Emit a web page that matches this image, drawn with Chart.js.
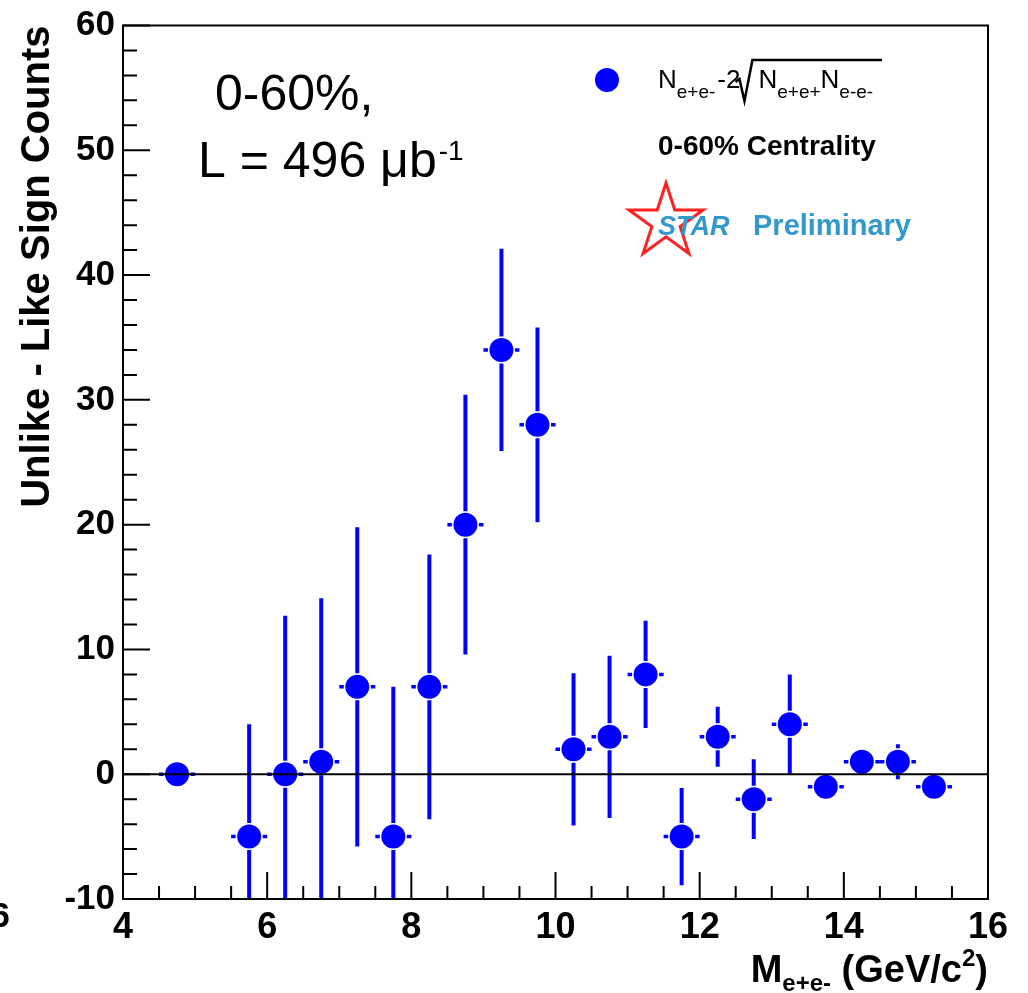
<!DOCTYPE html>
<html>
<head>
<meta charset="utf-8">
<script src="https://cdn.jsdelivr.net/npm/chart.js@4.4.1/dist/chart.umd.min.js"></script>
<style>
  html, body { margin: 0; padding: 0; background: #fff; }
  canvas { display: block; }
</style>
</head>
<body>
<canvas id="c" width="1028" height="993"></canvas>
<script>
// Dielectron invariant mass: unlike-sign minus like-sign counts, 0-60% centrality
const massBins = [4.75, 5.75, 6.25, 6.75, 7.25, 7.75, 8.25, 8.75, 9.25, 9.75, 10.25,
                  10.75, 11.25, 11.75, 12.25, 12.75, 13.25, 13.75, 14.25, 14.75, 15.25];
const counts   = [0, -5, 0, 1, 7, -5, 7, 20, 34, 28, 2, 3, 8, -5, 3, -2, 4, -1, 1, 1, -1];
const countErr = [0.8, 9, 12.7, 13.1, 12.8, 12, 10.6, 10.4, 8.1, 7.8, 6.1,
                  6.5, 4.3, 3.9, 2.4, 3.2, 4, 1, 1, 1.4, 1];
const binHalfWidth = 0.25;

const xRange = [4, 16];
const yRange = [-10, 60];

const FONT = '"Liberation Sans", Arial, Helvetica, sans-serif';
const BLUE = '#0000ff';
const MARKER_GAP = 13.5;

// error bars drawn ROOT style: nothing inside the marker
const errorBars = {
  id: 'errorBars',
  beforeDatasetsDraw(chart) {
    const { ctx, chartArea: a, scales: { x, y } } = chart;
    ctx.save();
    ctx.beginPath();
    ctx.rect(a.left, a.top, a.right - a.left, a.bottom - a.top);
    ctx.clip();
    ctx.strokeStyle = BLUE;
    ctx.lineWidth = 4;
    ctx.lineCap = 'butt';
    massBins.forEach((m, i) => {
      const px = x.getPixelForValue(m);
      const py = y.getPixelForValue(counts[i]);
      const top = y.getPixelForValue(counts[i] + countErr[i]);
      const bot = y.getPixelForValue(counts[i] - countErr[i]);
      const l = x.getPixelForValue(m - binHalfWidth);
      const r = x.getPixelForValue(m + binHalfWidth);
      ctx.beginPath();
      if (top < py - MARKER_GAP) { ctx.moveTo(px, py - MARKER_GAP); ctx.lineTo(px, top); }
      if (bot > py + MARKER_GAP) { ctx.moveTo(px, py + MARKER_GAP); ctx.lineTo(px, bot); }
      ctx.stroke();
      ctx.lineWidth = 3.5;
      ctx.beginPath();
      ctx.moveTo(l, py); ctx.lineTo(px - MARKER_GAP, py);
      ctx.moveTo(px + MARKER_GAP, py); ctx.lineTo(r, py);
      ctx.stroke();
      ctx.lineWidth = 4;
    });
    ctx.restore();
  }
};

// frame, inward ticks, zero line and the text boxes
const decorations = {
  id: 'decorations',
  afterDatasetsDraw(chart) {
    const { ctx, chartArea: a, scales: { x, y } } = chart;
    ctx.save();
    ctx.strokeStyle = '#000';
    ctx.lineWidth = 2;
    // zero line
    const y0 = y.getPixelForValue(0);
    ctx.beginPath(); ctx.moveTo(a.left, y0); ctx.lineTo(a.right, y0); ctx.stroke();
    // frame
    ctx.strokeRect(a.left, a.top, a.right - a.left, a.bottom - a.top);
    // x ticks
    ctx.beginPath();
    for (let v = xRange[0]; v <= xRange[1] + 1e-9; v += 0.5) {
      const px = x.getPixelForValue(v);
      const len = Math.abs(v % 2) < 1e-9 ? 27 : 13;
      ctx.moveTo(px, a.bottom); ctx.lineTo(px, a.bottom - len);
    }
    // y ticks
    for (let v = yRange[0]; v <= yRange[1] + 1e-9; v += 2) {
      const py = y.getPixelForValue(v);
      const len = Math.abs(v % 10) < 1e-9 ? 27 : 14;
      ctx.moveTo(a.left, py); ctx.lineTo(a.left + len, py);
    }
    ctx.stroke();
    ctx.restore();
  },
  afterDraw(chart) {
    const { ctx } = chart;
    ctx.save();
    ctx.fillStyle = '#000';
    ctx.textBaseline = 'alphabetic';
    ctx.textAlign = 'left';

    // x axis title, right aligned to the frame
    const big = 'bold 38px ' + FONT, small = 'bold 24px ' + FONT;
    const parts = [
      { t: 'M', f: big, dy: 0 },
      { t: 'e+e-', f: small, dy: 9 },
      { t: ' (GeV/c', f: big, dy: 0 },
      { t: '2', f: small, dy: -16 },
      { t: ')', f: big, dy: 0 }
    ];
    let w = 0;
    parts.forEach(p => { ctx.font = p.f; p.w = ctx.measureText(p.t).width; w += p.w; });
    let cx = chart.chartArea.right - w;
    parts.forEach(p => { ctx.font = p.f; ctx.fillText(p.t, cx, 982 + p.dy); cx += p.w; });

    // fragment of a neighbouring panel's label
    ctx.font = 'bold 35px ' + FONT;
    ctx.textAlign = 'right';
    ctx.fillText('6', 10, 927);
    ctx.textAlign = 'left';

    // big annotation
    ctx.font = '50px ' + FONT;
    ctx.fillText('0-60%,', 215, 110);
    ctx.fillText('L = 496 \u03bcb', 198, 177);
    const lw = ctx.measureText('L = 496 \u03bcb').width;
    ctx.font = '28px ' + FONT;
    ctx.fillText('-1', 198 + lw + 2, 160);

    // legend marker
    ctx.fillStyle = BLUE;
    ctx.beginPath(); ctx.arc(607, 80, 12, 0, Math.PI * 2); ctx.fill();

    // legend formula N_{e+e-}-2 sqrt(N_{e+e+} N_{e-e-})
    ctx.fillStyle = '#000';
    const nF = '26px ' + FONT, sF = '19px ' + FONT;
    let lx = 658;
    const put = (t, f, yy) => { ctx.font = f; ctx.fillText(t, lx, yy); lx += ctx.measureText(t).width; };
    put('N', nF, 88);
    put('e+e-', sF, 98);
    lx += 2;
    put('-2', nF, 88);
    const sqrtStart = lx - 5;
    lx += 18;
    ctx.strokeStyle = '#000';
    ctx.lineWidth = 2.5;
    ctx.beginPath();
    ctx.moveTo(sqrtStart, 82);
    ctx.lineTo(sqrtStart + 4, 79);
    ctx.lineTo(sqrtStart + 9, 101);
    ctx.lineTo(sqrtStart + 17, 60);
    ctx.lineTo(882, 60);
    ctx.stroke();
    put('N', nF, 88);
    put('e+e+', sF, 98);
    put('N', nF, 88);
    put('e-e-', sF, 98);

    ctx.font = 'bold 28px ' + FONT;
    ctx.fillText('0-60% Centrality', 658, 155);

    // STAR star outline
    const scx = 666, scy = 222, R = 39, r = R * 0.382;
    ctx.strokeStyle = '#ff2020';
    ctx.lineWidth = 3;
    ctx.beginPath();
    for (let k = 0; k < 10; k++) {
      const ang = -Math.PI / 2 + k * Math.PI / 5;
      const rr = k % 2 ? r : R;
      const px = scx + rr * Math.cos(ang), py = scy + rr * Math.sin(ang);
      if (k === 0) ctx.moveTo(px, py); else ctx.lineTo(px, py);
    }
    ctx.closePath();
    ctx.stroke();

    ctx.fillStyle = '#3399cc';
    ctx.font = 'italic bold 27px ' + FONT;
    ctx.fillText('STAR', 658, 235);
    ctx.font = 'bold 29px ' + FONT;
    ctx.fillText('Preliminary', 753, 235);
    ctx.restore();
  }
};

const ctx = document.getElementById('c').getContext('2d');
new Chart(ctx, {
  type: 'scatter',
  data: {
    datasets: [{
      data: massBins.map((m, i) => ({ x: m, y: counts[i] })),
      backgroundColor: BLUE,
      borderWidth: 0,
      pointRadius: 12,
      pointHoverRadius: 12
    }]
  },
  options: {
    responsive: false,
    animation: false,
    devicePixelRatio: 1,
    layout: { padding: { top: 25, right: 40, left: 0, bottom: 0 } },
    plugins: { legend: { display: false }, tooltip: { enabled: false } },
    scales: {
      x: {
        type: 'linear', min: xRange[0], max: xRange[1],
        afterFit: s => { s.height = 94; },
        grid: { display: false, drawTicks: false },
        border: { display: false },
        ticks: { stepSize: 2, padding: 7, color: '#000', maxRotation: 0, autoSkip: false,
                 font: { family: FONT, size: 36, weight: 'bold' } }
      },
      y: {
        type: 'linear', min: yRange[0], max: yRange[1],
        afterFit: s => { s.width = 123; },
        grid: { display: false, drawTicks: false },
        border: { display: false },
        ticks: { stepSize: 10, padding: 8, color: '#000',
                 font: { family: FONT, size: 35, weight: 'bold', lineHeight: 1 } },
        title: { display: true, text: 'Unlike - Like Sign Counts', align: 'end', color: '#000',
                 padding: { top: 14, bottom: 0 },
                 font: { family: FONT, size: 40, weight: 'bold' } }
      }
    }
  },
  plugins: [errorBars, decorations]
});
</script>
</body>
</html>
